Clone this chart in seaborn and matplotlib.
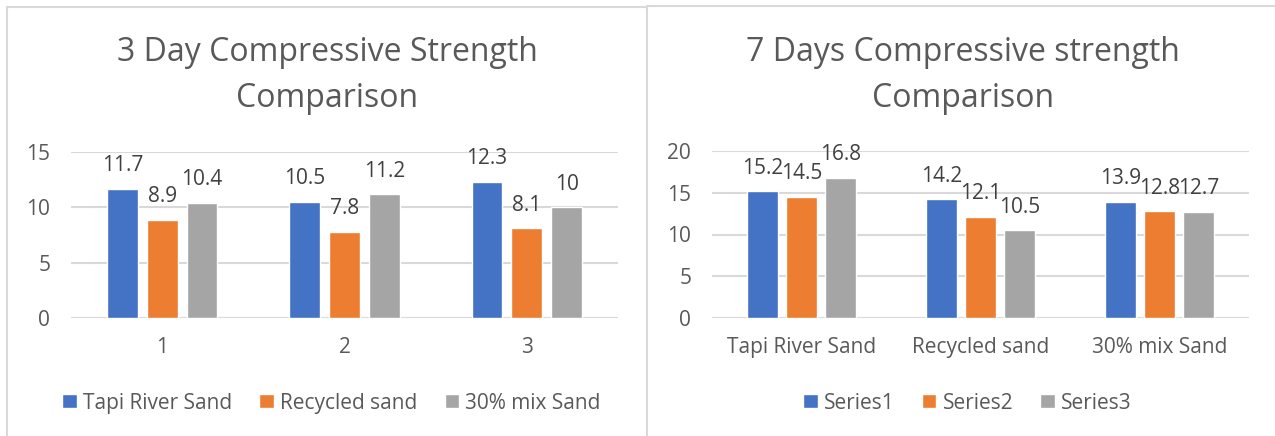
import pandas as pd
import matplotlib.pyplot as plt
import seaborn as sns
from matplotlib.lines import Line2D

# ============= 数据 =============
day3_groups = ['1', '2', '3']
day3_series = ['Tapi River Sand', 'Recycled sand', '30% mix Sand']
day3_tapi = [11.7, 10.5, 12.3]
day3_recycled = [8.9, 7.8, 8.1]
day3_mix = [10.4, 11.2, 10]

day7_groups = ['Tapi River Sand', 'Recycled sand', '30% mix Sand']
day7_series = ['Series1', 'Series2', 'Series3']
day7_s1 = [15.2, 14.2, 13.9]
day7_s2 = [14.5, 12.1, 12.8]
day7_s3 = [16.8, 10.5, 12.7]

palette_colors = ['#4472C4', '#ED7D31', '#A5A5A5']
TXT = '#595959'
LBL = '#404040'
GRID = '#D9D9D9'
FS = 15


def to_long(groups, series, values):
    rows = []
    for s, vals in zip(series, values):
        for g, v in zip(groups, vals):
            rows.append({'group': g, 'series': s, 'value': v})
    return pd.DataFrame(rows)


sns.set_theme(style='white')
plt.rcParams['font.family'] = ['Open Sans', 'DejaVu Sans']

fig = plt.figure(figsize=(12.75, 4.36), dpi=100)
W, H = 1275, 436


def draw_panel(rect, groups, series, values, ymax, title, title_x, legend_x):
    ax = fig.add_axes(rect)
    df = to_long(groups, series, values)
    sns.barplot(data=df, x='group', y='value', hue='series',
                palette=dict(zip(series, palette_colors)),
                width=0.656, gap=0.225, saturation=1, ax=ax)
    ax.set_xlim(-0.5, 2.5)
    ax.set_ylim(0, ymax)
    ax.set_yticks(range(0, ymax + 1, 5))
    ax.set_xlabel('')
    ax.set_ylabel('')
    ax.grid(axis='y', color=GRID, linewidth=1.5)
    ax.set_axisbelow(True)
    for sp in ax.spines.values():
        sp.set_visible(False)
    ax.tick_params(axis='y', length=0, pad=15, labelsize=FS, labelcolor=TXT)
    ax.tick_params(axis='x', length=0, pad=14, labelsize=FS, labelcolor=TXT)
    for cont in ax.containers:
        ax.bar_label(cont, labels=[f'{b.get_height():g}' for b in cont],
                     padding=9, fontsize=FS, color=LBL)
    sns.move_legend(ax, 'center', bbox_to_anchor=(legend_x, 1 - 403 / H),
                    bbox_transform=fig.transFigure, ncol=3, frameon=False,
                    title=None, fontsize=FS, handlelength=0.7,
                    handleheight=0.65, handletextpad=0.3, columnspacing=1.3)
    for t in ax.get_legend().get_texts():
        t.set_color(TXT)
    fig.text(title_x, 1 - 75.5 / H, title, ha='center', va='center',
             fontsize=23, color=TXT, linespacing=1.55)
    return ax


draw_panel([71 / W, 1 - 318 / H, 547 / W, 166 / H], day3_groups, day3_series,
           [day3_tapi, day3_recycled, day3_mix], 15,
           '3 Day Compressive Strength\nComparison', 327 / W, 331.5 / W)
draw_panel([712 / W, 1 - 318 / H, 537 / W, 167 / H], day7_groups, day7_series,
           [day7_s1, day7_s2, day7_s3], 20,
           '7 Days Compressive strength\nComparison', 963 / W, 967.5 / W)

# 图表外框
def pline(xs, ys):
    fig.add_artist(Line2D([x / W for x in xs], [1 - y / H for y in ys],
                          transform=fig.transFigure, color=GRID, linewidth=1.5))

pline([7, 7], [436, 7])
pline([7, 647], [7, 7])
pline([647, 647], [7, 436])
pline([647, 1275], [6, 6])

fig.savefig('out.png', dpi=100)
